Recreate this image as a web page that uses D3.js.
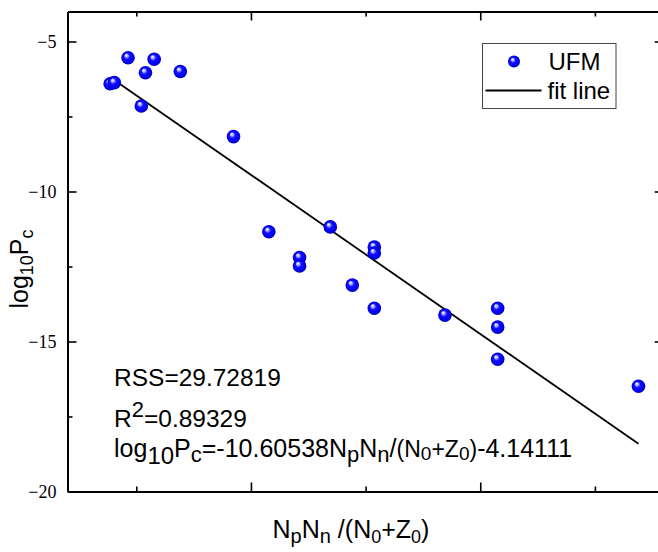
<!DOCTYPE html>
<html>
<head>
<meta charset="utf-8">
<script src="https://cdn.jsdelivr.net/npm/d3@7"></script>
<style>
  body { margin: 0; background: #fff; }
  svg { display: block; }
  text { font-family: "Liberation Sans", Arial, sans-serif; fill: #000; }
  .tick text { font-family: "Liberation Serif", "Times New Roman", serif; font-size: 18px; }
  .axis path, .axis line { stroke: #000; }
  .axis path { stroke-width: 2; }
  .axis line { stroke-width: 1.6; }
</style>
</head>
<body>
<svg></svg>
<script>
// UFM points
const xValues = [0.193, 0.202, 0.232, 0.289, 0.270, 0.346, 0.261, 0.462, 0.539, 0.673, 0.606,
  0.606, 0.769, 0.769, 0.721, 0.769, 0.923, 1.038, 1.038, 1.038, 1.345]
const yValues = [-6.41, -6.37, -5.54, -5.59, -6.04, -6.00, -7.15, -8.17, -11.34, -11.18, -12.20,
  -12.48, -11.85, -12.05, -13.12, -13.89, -14.12, -13.89, -14.52, -15.59, -16.49]

const fitSlope = -10.60538
const fitIntercept = -4.14111

const xDomain = [0.1, 1.4]
const yDomain = [-20, -4]
const xMajorTicks = [0.5, 1.0]
const xMinorTicks = [0.25, 0.75, 1.25]
const yMajorTicks = [-20, -15, -10, -5]
const yMinorTicks = [-17.5, -12.5, -7.5]

const annotations = [
  [['RSS=29.72819', 24.5, 0]],
  [['R', 24.5, 0], ['2', 22, -10], ['=0.89329', 24.5, 10]],
  [['log', 25, 0], ['10', 24, 7], ['P', 25, -7], ['c', 22, 5], ['=-10.60538N', 25, -5],
   ['p', 22, 5], ['N', 25, -5], ['n', 22, 5], ['/', 25, -5], ['(N', 23, 0], ['0', 19, 3],
   ['+Z', 23, -3], ['0', 19, 3], [')', 23, -3], ['-4.14111', 25, 0]]
]

const SVG_WIDTH = 658
const SVG_HEIGHT = 552
const margin = { left: 67.5, top: 11.5, right: -5.7, bottom: 60.5 }
const width = SVG_WIDTH - margin.left - margin.right
const height = SVG_HEIGHT - margin.top - margin.bottom

const svg = d3.select('svg')
  .attr('width', SVG_WIDTH)
  .attr('height', SVG_HEIGHT)

const defs = svg.append('defs')
const grad = defs.append('radialGradient')
  .attr('id', 'ball')
  .attr('cx', '50%').attr('cy', '50%').attr('r', '50%')
  .attr('fx', '35%').attr('fy', '30%')
grad.append('stop').attr('offset', '0%').attr('stop-color', '#ffffff')
grad.append('stop').attr('offset', '20%').attr('stop-color', '#b8b8ff')
grad.append('stop').attr('offset', '45%').attr('stop-color', '#1010ff')
grad.append('stop').attr('offset', '85%').attr('stop-color', '#0000ee')
grad.append('stop').attr('offset', '100%').attr('stop-color', '#0000a8')

const g = svg.append('g')
  .attr('transform', `translate(${margin.left}, ${margin.top})`)

const xScale = d3.scaleLinear().domain(xDomain).range([0, width])
const yScale = d3.scaleLinear().domain(yDomain).range([height, 0])

function drawAxes() {
  // minor ticks first
  g.append('g').attr('class', 'axis')
    .attr('transform', `translate(0, ${height})`)
    .call(d3.axisBottom(xScale).tickValues(xMinorTicks).tickSize(-5).tickSizeOuter(0).tickFormat(''))
  g.append('g').attr('class', 'axis')
    .call(d3.axisTop(xScale).tickValues(xMinorTicks).tickSize(-5).tickSizeOuter(0).tickFormat(''))
  g.append('g').attr('class', 'axis')
    .call(d3.axisLeft(yScale).tickValues(yMinorTicks).tickSize(-5).tickSizeOuter(0).tickFormat(''))
  g.append('g').attr('class', 'axis')
    .attr('transform', `translate(${width}, 0)`)
    .call(d3.axisRight(yScale).tickValues(yMinorTicks).tickSize(-5).tickSizeOuter(0).tickFormat(''))

  g.append('g').attr('class', 'axis')
    .attr('transform', `translate(0, ${height})`)
    .call(d3.axisBottom(xScale).tickValues(xMajorTicks).tickSize(-9).tickSizeOuter(0).tickFormat(''))
  g.append('g').attr('class', 'axis')
    .call(d3.axisTop(xScale).tickValues(xMajorTicks).tickSize(-9).tickSizeOuter(0).tickFormat(''))
  g.append('g').attr('class', 'axis')
    .call(d3.axisLeft(yScale).tickValues(yMajorTicks).tickSize(-9).tickSizeOuter(0).tickPadding(11))
  g.append('g').attr('class', 'axis')
    .attr('transform', `translate(${width}, 0)`)
    .call(d3.axisRight(yScale).tickValues(yMajorTicks).tickSize(-9).tickSizeOuter(0).tickFormat(''))

  g.selectAll('.tick text').attr('fill', '#000').attr('font-size', 18)
}

function drawFit() {
  const [x0, x1] = d3.extent(xValues)
  const line = d3.line().x(d => xScale(d)).y(d => yScale(fitSlope * d + fitIntercept))
  g.append('path')
    .datum([x0, x1])
    .attr('d', line)
    .attr('fill', 'none')
    .attr('stroke', '#000')
    .attr('stroke-width', 1.8)
}

function drawPoints() {
  g.selectAll('circle.pt')
    .data(xValues)
    .enter()
    .append('circle')
    .attr('class', 'pt')
    .attr('cx', d => xScale(d))
    .attr('cy', (d, i) => yScale(yValues[i]))
    .attr('r', 6.8)
    .attr('fill', 'url(#ball)')
}

function richText(parent, x, y, parts) {
  const t = parent.append('text').attr('x', x).attr('y', y)
  parts.forEach(([s, size, dy]) => {
    t.append('tspan').attr('font-size', size).attr('dy', dy).text(s)
  })
  return t
}

function drawLabels() {
  const baselines = [386, 427, 457]
  annotations.forEach((parts, i) => richText(svg, 114, baselines[i], parts))

  // x title
  richText(svg, 0, 538, [['N', 25, 0], ['p', 20, 5], ['N', 25, -5], ['n', 20, 5], [' /(N', 25, -5],
    ['0', 18, 5], ['+Z', 25, -5], ['0', 18, 5], [')', 25, -5]])
    .attr('x', 351).attr('text-anchor', 'middle')

  // y title
  richText(svg, 0, 0, [['log', 25, 0], ['10', 18, 5], ['P', 25, -5], ['c', 18, 5]])
    .attr('text-anchor', 'middle')
    .attr('transform', 'translate(28, 269) rotate(-90)')
}

function drawLegend() {
  const lg = svg.append('g').attr('transform', 'translate(482.5, 43.5)')
  lg.append('rect')
    .attr('width', 133.5).attr('height', 65)
    .attr('fill', '#fff').attr('stroke', '#444').attr('stroke-width', 1)
  lg.append('circle').attr('cx', 31.5).attr('cy', 18).attr('r', 6).attr('fill', 'url(#ball)')
  lg.append('text').attr('x', 66).attr('y', 26).attr('font-size', 24).text('UFM')
  lg.append('line').attr('x1', 3).attr('x2', 59).attr('y1', 47).attr('y2', 47)
    .attr('stroke', '#000').attr('stroke-width', 1.8)
  lg.append('text').attr('x', 65).attr('y', 55).attr('font-size', 24).text('fit line')
}

drawAxes()
drawFit()
drawPoints()
drawLegend()
drawLabels()
</script>
</body>
</html>
